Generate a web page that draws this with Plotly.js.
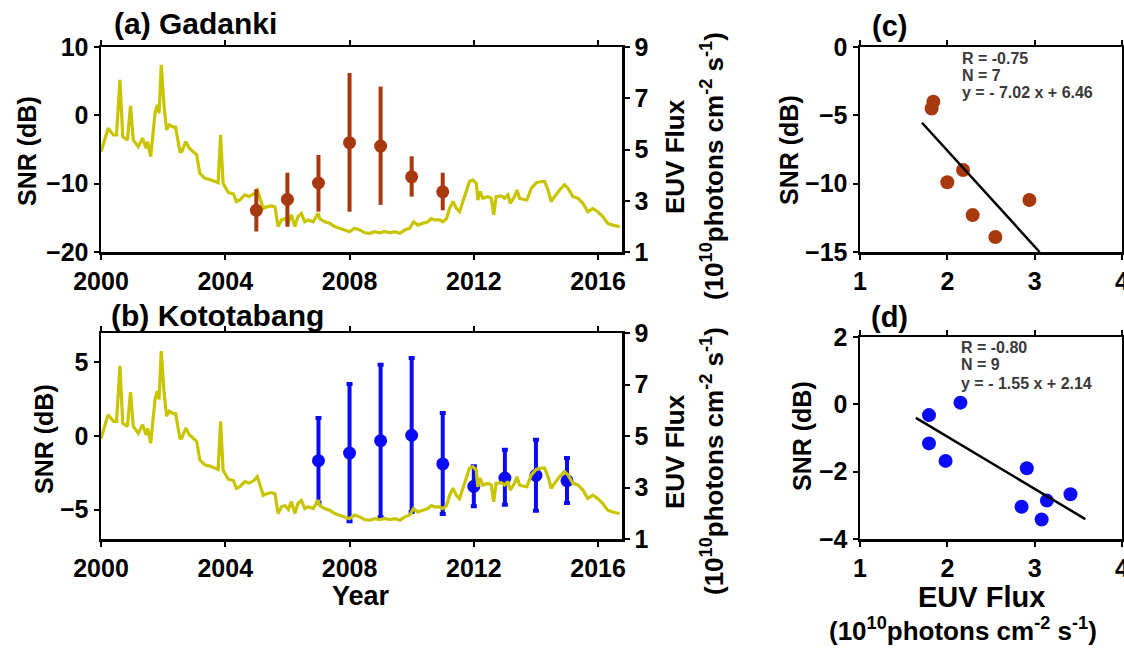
<!DOCTYPE html>
<html><head><meta charset="utf-8">
<script src="https://cdn.plot.ly/plotly-3.0.1.min.js"></script>
<style>html,body{margin:0;padding:0;background:#fff}#chart{width:1124px;height:648px}</style>
</head><body><div id="chart"></div>
<script>
// ---------- data ----------
const euvYear = [2000.0,2000.23,2000.4,2000.5,2000.61,2000.7,2000.85,2000.95,2001.04,2001.2,2001.34,2001.45,2001.5,2001.6,2001.74,2001.81,2001.87,2001.94,2002.03,2002.11,2002.2,2002.33,2002.4,2002.54,2002.6,2002.73,2002.84,2002.97,2003.08,2003.18,2003.34,2003.5,2003.66,2003.77,2003.85,2003.93,2004.1,2004.26,2004.36,2004.47,2004.63,2004.77,2004.92,2005.03,2005.1,2005.22,2005.33,2005.49,2005.6,2005.7,2005.81,2005.92,2006.03,2006.13,2006.24,2006.34,2006.45,2006.56,2006.67,2006.83,2006.99,2007.04,2007.2,2007.36,2007.52,2007.68,2007.84,2008.0,2008.16,2008.33,2008.49,2008.65,2008.81,2008.97,2009.13,2009.3,2009.46,2009.62,2009.78,2009.94,2010.06,2010.2,2010.36,2010.52,2010.63,2010.74,2010.9,2011.0,2011.12,2011.22,2011.33,2011.44,2011.54,2011.7,2011.86,2011.97,2012.08,2012.13,2012.2,2012.29,2012.45,2012.56,2012.64,2012.72,2012.88,2012.99,2013.1,2013.17,2013.31,2013.39,2013.47,2013.58,2013.71,2013.85,2014.01,2014.17,2014.28,2014.39,2014.49,2014.6,2014.76,2014.92,2015.03,2015.19,2015.35,2015.51,2015.67,2015.83,2015.99,2016.15,2016.31,2016.47,2016.69];
const euvFlux = [4.9,5.83,5.57,5.57,7.72,5.5,5.37,6.7,5.37,5.11,5.44,5.05,5.3,4.72,6.42,6.74,6.42,8.3,6.68,5.77,5.96,5.87,5.87,4.92,4.92,5.31,5.05,4.92,4.79,4.07,3.88,3.83,3.75,3.7,5.57,3.68,3.32,3.27,2.97,3.03,3.23,3.17,3.27,3.42,3.17,2.7,2.76,2.8,2.76,1.99,2.25,2.3,2.15,2.45,1.99,2.38,2.5,2.18,2.25,2.18,2.51,2.3,2.18,2.12,1.99,1.93,1.86,1.79,1.93,1.86,1.75,1.73,1.79,1.75,1.8,1.75,1.79,1.73,1.86,1.93,2.18,2.05,2.12,2.18,2.3,2.25,2.25,2.18,2.3,2.7,2.97,2.7,2.57,3.16,3.75,3.81,3.68,3.03,3.36,3.1,3.16,3.1,2.45,3.16,3.19,3.1,3.23,2.9,3.16,3.42,3.1,3.06,3.03,3.49,3.7,3.75,3.75,3.42,2.97,3.16,3.42,3.62,3.49,3.16,3.1,2.9,2.57,2.7,2.57,2.38,2.12,2.05,1.99];

const yearsGadanki = [2005,2006,2007,2008,2009,2010,2011];
const snrGadanki = [-13.9,-12.3,-9.9,-4.0,-4.5,-9.0,-11.2];
const snrGadankiHigh = [-10.8,-8.4,-5.8,6.2,4.2,-6.0,-8.4];
const snrGadankiLow = [-17.0,-16.3,-14.1,-14.1,-13.1,-11.9,-13.9];
const euvGadanki = [2.55,2.29,2.0,1.84,1.82,2.18,2.94];

const yearsKoto = [2007,2008,2009,2010,2011,2012,2013,2014,2015];
const snrKoto = [-1.68,-1.16,-0.32,0.05,-1.9,-3.42,-2.86,-2.67,-3.04];
const snrKotoHigh = [1.22,3.54,4.85,5.3,1.56,-2.06,-0.93,-0.25,-1.5];
const snrKotoLow = [-4.56,-5.8,-5.53,-5.17,-5.3,-4.78,-4.67,-5.08,-4.56];
const euvKoto = [1.98,1.79,1.79,2.15,2.91,3.08,3.14,3.41,2.85];

const fitGadanki = {slope: -7.02, intercept: 6.46};
const fitGadankiX = [1.71, 3.057];
const fitKoto = {slope: -1.55, intercept: 2.14};
const fitKotoX = [1.64, 3.58];

const statsGadanki = ['R = -0.75', 'N = 7', 'y = - 7.02 x + 6.46'];
const statsKoto = ['R = -0.80', 'N = 9', 'y = - 1.55 x + 2.14'];

const timeTicks = [2000,2004,2008,2012,2016];
const euvTicks = [1,3,5,7,9];
const snrTicksA = [-20,-10,0,10];
const snrTicksB = [-5,0,5];
const snrTicksC = [-15,-10,-5,0];
const snrTicksD = [-4,-2,0,2];
const fluxTicks = [1,2,3,4];

// ---------- styling ----------
const W = 1124, H = 648;
const px = x => x / W;
const py = y => 1 - y / H;
const FONT = 'Liberation Sans, Arial, Helvetica, sans-serif';
const LINE_COL = '#c9c400';
const RED = '#a8380e';
const BLUE = '#0b0bf5';

function sub(arr, ref) { return arr.map((v, i) => v - ref[i]); }
function fitLine(fit, xs) { return xs.map(x => fit.slope * x + fit.intercept); }

const axBase = {
  showline: true, linewidth: 2.5, linecolor: '#000', ticks: 'outside', ticklen: 5,
  tickwidth: 2, tickcolor: '#000', showgrid: false, zeroline: false,
  ticklabeloverflow: 'allow',
  tickfont: {family: FONT, size: 25, color: '#000', weight: 'bold'}, fixedrange: true
};
const ax = o => Object.assign({}, axBase, o);

const traces = [
  {x: euvYear, y: euvFlux, xaxis: 'x', yaxis: 'y', mode: 'lines',
   line: {color: LINE_COL, width: 3.2}, hoverinfo: 'skip'},
  {x: yearsGadanki, y: snrGadanki, xaxis: 'x', yaxis: 'y2', mode: 'markers',
   marker: {color: RED, size: 13},
   error_y: {type: 'data', symmetric: false, array: sub(snrGadankiHigh, snrGadanki),
             arrayminus: sub(snrGadanki, snrGadankiLow), color: RED, thickness: 4, width: 0}},
  {x: yearsKoto, y: snrKoto, xaxis: 'x2', yaxis: 'y3', mode: 'markers',
   marker: {color: BLUE, size: 13},
   error_y: {type: 'data', symmetric: false, array: sub(snrKotoHigh, snrKoto),
             arrayminus: sub(snrKoto, snrKotoLow), color: BLUE, thickness: 4, width: 3}},
  {x: euvYear, y: euvFlux, xaxis: 'x2', yaxis: 'y4', mode: 'lines',
   line: {color: LINE_COL, width: 3.2}, hoverinfo: 'skip'},
  {x: euvGadanki, y: snrGadanki, xaxis: 'x3', yaxis: 'y5', mode: 'markers',
   marker: {color: RED, size: 14}},
  {x: fitGadankiX, y: fitLine(fitGadanki, fitGadankiX), xaxis: 'x3', yaxis: 'y5', mode: 'lines',
   line: {color: '#000', width: 2.5}},
  {x: euvKoto, y: snrKoto, xaxis: 'x4', yaxis: 'y6', mode: 'markers',
   marker: {color: BLUE, size: 14}},
  {x: fitKotoX, y: fitLine(fitKoto, fitKotoX), xaxis: 'x4', yaxis: 'y6', mode: 'lines',
   line: {color: '#000', width: 2.5}}
];

const dxTime = [px(101), px(622)];
const dxCorr = [px(860), px(1122)];
const dyA = [py(252), py(47)];
const dyB = [py(539), py(333)];
const dyD = [py(539), py(337)];

const layout = {
  width: W, height: H, autosize: false, showlegend: false,
  margin: {l: 0, r: 0, t: 0, b: 0, pad: 0},
  paper_bgcolor: '#fff', plot_bgcolor: 'rgba(0,0,0,0)',
  font: {family: FONT, size: 25, color: '#000', weight: 'bold'},
  xaxis: ax({domain: dxTime, anchor: 'y', range: [2000, 2016.77], tickvals: timeTicks, mirror: 'ticks'}),
  yaxis: ax({domain: dyA, anchor: 'x', side: 'right', range: [1, 9], tickvals: euvTicks}),
  yaxis2: ax({overlaying: 'y', anchor: 'x', side: 'left', range: [-20, 10], tickvals: snrTicksA}),
  xaxis2: ax({domain: dxTime, anchor: 'y3', range: [2000, 2016.77], tickvals: timeTicks, mirror: 'ticks'}),
  yaxis3: ax({domain: dyB, anchor: 'x2', side: 'left', range: [-7, 7], tickvals: snrTicksB}),
  yaxis4: ax({overlaying: 'y3', anchor: 'x2', side: 'right', range: [1, 9], tickvals: euvTicks}),
  xaxis3: ax({domain: dxCorr, anchor: 'y5', range: [1, 4], tickvals: fluxTicks, mirror: 'ticks'}),
  yaxis5: ax({domain: dyA, anchor: 'x3', range: [-15, 0], tickvals: snrTicksC, mirror: 'ticks'}),
  xaxis4: ax({domain: dxCorr, anchor: 'y6', range: [1, 4], tickvals: fluxTicks, mirror: 'ticks'}),
  yaxis6: ax({domain: dyD, anchor: 'x4', range: [-4, 2], tickvals: snrTicksD, mirror: 'ticks'}),
  annotations: []
};

function ann(text, x, y, size, o) {
  layout.annotations.push(Object.assign({
    text: text, xref: 'paper', yref: 'paper', x: px(x), y: py(y),
    xanchor: 'center', yanchor: 'middle', showarrow: false,
    font: {family: FONT, size: size, color: '#000', weight: 'bold'}
  }, o || {}));
}
const unitText = '(10<sup>10</sup>photons cm<sup>-2</sup> s<sup>-1</sup>)';

ann('(a) Gadanki', 112, 24, 30, {xanchor: 'left'});
ann('(b) Kototabang', 109, 316, 30, {xanchor: 'left'});
ann('(c)', 890, 26, 29);
ann('(d)', 889, 317, 29);

ann('SNR (dB)', 27, 151, 25, {textangle: -90});
ann('SNR (dB)', 44, 439, 25, {textangle: -90});
ann('SNR (dB)', 789, 150, 25, {textangle: -90});
ann('SNR (dB)', 802, 436, 25, {textangle: -90});

ann('Year', 361, 596, 27);

ann('EUV Flux', 675, 157, 26, {textangle: -90});
ann(unitText, 712, 166, 26, {textangle: -90});
ann('EUV Flux', 675, 452, 26, {textangle: -90});
ann(unitText, 712, 461, 26, {textangle: -90});

ann('EUV Flux', 981, 597, 29);
ann(unitText, 963, 629, 26);

const statFont = {family: FONT, size: 16, color: '#3a3a3a', weight: 'bold'};
const statYC = [59, 76, 93];
const statYD = [347, 365, 383];
statsGadanki.forEach((t, i) => ann(t, 960, statYC[i], 16, {xanchor: 'left', font: statFont}));
statsKoto.forEach((t, i) => ann(t, 959, statYD[i], 16, {xanchor: 'left', font: statFont}));

Plotly.newPlot('chart', traces, layout, {displayModeBar: false, staticPlot: true});
</script>
</body></html>
